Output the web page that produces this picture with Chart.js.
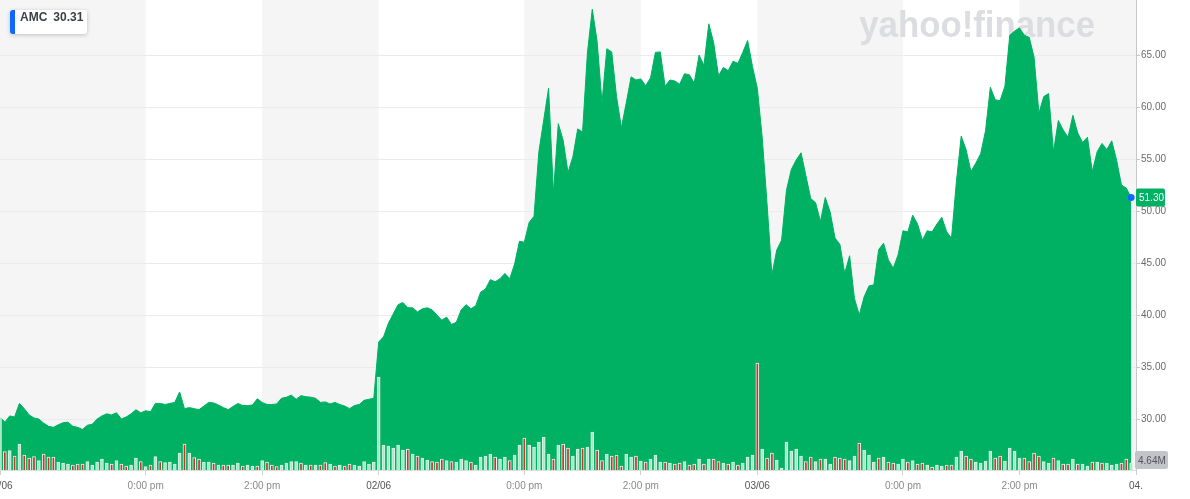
<!DOCTYPE html>
<html>
<head>
<meta charset="utf-8">
<title>AMC</title>
<script src="https://cdn.jsdelivr.net/npm/chart.js@4.4.1/dist/chart.umd.min.js"></script>
<style>
  body { margin: 0; background: #fff; }
  #wrap { position: relative; width: 1190px; height: 499px; }
  #legend {
    position: absolute; left: 10px; top: 10px; height: 24px; line-height: 24px;
    background: #fff; border-left: 5px solid #0f69ff; border-radius: 3px;
    box-shadow: 0 1px 4px rgba(0, 0, 0, 0.22); padding: 0 4px 0 5px;
    font: bold 12px "Liberation Sans", Arial, sans-serif; color: #3c4046;
  }
  #legend .val { margin-left: 6px; }
</style>
</head>
<body>
<div id="wrap">
  <canvas id="priceChart"></canvas>
  <div id="legend"><span>AMC</span><span class="val">30.31</span></div>
</div>
<script>
// 5 minute bars, 78 per trading day
const priceDay1 = [
  30.2, 29.7, 30.3, 30.2, 31.5, 31.0, 30.4, 30.1, 30.0, 29.6,
  29.3, 29.2, 29.45, 29.65, 29.7, 29.3, 29.2, 29.0, 29.4, 29.5,
  30.0, 30.3, 30.5, 30.4, 30.6, 30.0, 30.2, 30.5, 30.9, 30.6,
  30.8, 30.7, 31.5, 31.5, 31.4, 31.5, 31.6, 32.6, 31.0, 31.1,
  31.0, 30.9, 31.25, 31.6, 31.55, 31.35, 31.1, 30.9, 31.2, 31.5,
  31.3, 31.3, 31.35, 31.95, 31.6, 31.4, 31.4, 31.45, 32.0, 32.1,
  32.3, 31.9, 32.25, 32.15, 32.1, 32.0, 31.6, 31.65, 31.45, 31.6,
  31.4, 31.25, 31.0, 31.3, 31.4, 31.8, 31.9, 32.0
];
const priceDay2 = [
  37.4, 37.9, 39.2, 40.1, 41.0, 41.2, 40.7, 40.7, 40.3, 40.6,
  40.7, 40.5, 40.0, 39.5, 39.8, 39.1, 39.3, 40.5, 41.0, 40.6,
  40.9, 42.2, 42.5, 43.4, 43.2, 43.5, 44.0, 43.5, 44.9, 47.1,
  47.0, 48.9, 49.5, 55.7, 58.75, 61.8, 51.7, 58.4, 56.8, 53.7,
  55.2, 57.9, 57.6, 65.2, 69.4, 66.3, 60.4, 65.6, 65.3, 61.0,
  58.0, 60.4, 62.9, 62.6, 62.7, 62.05, 62.8, 65.25, 65.3, 62.0,
  62.6, 62.5, 62.2, 63.2, 63.1, 62.3, 65.0, 64.0, 68.0, 66.2,
  63.0, 63.8, 63.5, 64.4, 64.2, 65.25, 66.4, 63.9
];
const priceDay3 = [
  61.8, 57.1, 50.7, 43.85, 46.25, 47.2, 52.0, 54.0, 54.9, 55.6,
  53.4, 51.2, 50.8, 49.0, 51.3, 49.9, 47.4, 46.8, 44.0, 45.7,
  41.6, 40.0, 41.75, 42.8, 42.9, 46.3, 46.9, 45.3, 44.5, 45.8,
  48.1, 48.0, 49.6, 48.75, 47.2, 48.1, 48.0, 48.75, 49.4, 48.0,
  47.4, 52.8, 57.2, 55.9, 53.8, 54.6, 55.5, 57.7, 61.9, 60.7,
  60.6, 62.0, 66.9, 67.3, 67.6, 66.9, 66.7, 64.8, 59.4, 61.0,
  61.3, 55.7, 58.7, 57.8, 57.1, 59.2, 57.5, 56.6, 57.1, 53.8,
  55.7, 56.5, 55.9, 56.75, 54.9, 52.5, 52.2, 51.3
];

// volume in millions
const volDay1 = [
  26.5, 9.2, 9.7, 7, 12.9, 7.4, 5.9, 6.7, 4.7, 7.9,
  6.4, 6.4, 3.9, 3.4, 2.9, 2.4, 2.9, 2.9, 4.2, 2.5,
  3.9, 5.4, 3.4, 2.9, 4.7, 2.9, 2, 2.5, 5.9, 4.2,
  1.7, 2.5, 6.7, 4.2, 3.7, 3.9, 2.9, 8.4, 12.9, 8.4,
  6.2, 5.4, 3.9, 3.9, 3.4, 2.4, 2.4, 2.4, 2.4, 3.4,
  2, 2.4, 2, 2, 4.7, 3.9, 2.4, 1.7, 2.4, 3.4,
  4.2, 4.2, 3.4, 2.4, 2.4, 2.4, 2.4, 3.7, 2.9, 2,
  2.4, 2, 2.9, 2.4, 2, 4.2, 2.9, 3.9
];
const volDay2 = [
  46.5, 12.5, 12, 10.9, 12.5, 10, 10.4, 8, 7, 5.9,
  5, 4.2, 3.9, 5.4, 4.7, 4.2, 3.9, 5.4, 4.7, 3.9,
  2.4, 6.4, 7, 8, 6.4, 5.4, 6.4, 4.7, 7.5, 12.5,
  15.9, 12.5, 11.4, 13.9, 16.4, 8, 5.4, 12.5, 12.9, 10.9,
  7, 10.4, 10.9, 11.4, 18.9, 10, 4.7, 8, 7, 7.5,
  2, 8, 6.4, 7, 4.5, 3.9, 5.4, 7.5, 3.9, 3.9,
  3.4, 2.9, 3.4, 4.2, 2.4, 2.9, 5.4, 2.9, 5.4, 5.4,
  4.2, 3.4, 2.9, 3.9, 2.4, 3.4, 6.4, 7.5
];
const volDay3 = [
  53.5, 10.4, 5.9, 8.4, 5, 0.9, 13.9, 9.5, 10.4, 7,
  4.2, 6.4, 4.2, 5.4, 5.4, 2.9, 6.4, 5.9, 5.4, 4.7,
  7, 13.4, 10, 7.5, 3.9, 5.9, 6.4, 3.9, 3.4, 2.9,
  5.4, 3.9, 4.7, 2.9, 3.4, 2.4, 1.5, 2.4, 2, 2.4,
  2.4, 6.4, 9.5, 7, 5.4, 3.9, 3.4, 4.5, 9.5, 5.9,
  7, 4.5, 10.9, 9.5, 5.9, 5.9, 4.2, 8.4, 7, 4.2,
  3.4, 5.9, 4.7, 2.9, 2.9, 5.4, 2.9, 2.9, 2, 3.9,
  3.9, 3.4, 3.4, 2.4, 2.9, 3.4, 5.4, 3.4
];
// u = up bar, d = down bar
const dirDay1 = 'udududddud' + 'dduuuddduu' + 'uuududduud' + 'ududuuuudu' + 'dduududduu' + 'duududdduu' + 'uudududdud' + 'udduuuuu';
const dirDay2 = 'uuuuu' + 'ududuudddu' + 'duuuduuuud' + 'uuduuduuuu' + 'ududduuduu' + 'dduddduudu' + 'duuududdud' + 'dududdudud' + 'uuu';
const dirDay3 = 'dudduuuuu' + 'udduduuddd' + 'uuduuududd' + 'uududduduu' + 'dduudduuuu' + 'dduuuudddd' + 'uududduduu' + 'duduuuddu';

const xTickValues = [0, 30, 54, 78, 108, 132, 156, 186, 210, 234];
const xTickLabels = ['01/06', '0:00 pm', '2:00 pm', '02/06', '0:00 pm', '2:00 pm', '03/06', '0:00 pm', '2:00 pm', '04.'];
const dateTicks = [0, 3, 6, 9];
const priceTicks = [30, 35, 40, 45, 50, 55, 60, 65];
const lastVolumeLabel = '4.64M';

const prices = [...priceDay1, ...priceDay2, ...priceDay3];
const volumes = [...volDay1, ...volDay2, ...volDay3];
const dirs = (dirDay1 + dirDay2 + dirDay3).split('');
const lastIdx = prices.length - 1;

const green = '#00b163';
const fontFamily = '"Liberation Sans", Arial, sans-serif';
Chart.defaults.font.family = fontFamily;

const decorPlugin = {
    id: 'decor',
    beforeDraw(chart) {
        let c = chart.ctx, a = chart.chartArea, x = chart.scales.x;
        c.save();
        c.fillStyle = '#fff';
        c.fillRect(0, 0, chart.width, chart.height);
        c.fillStyle = '#f5f5f5';
        for (let i = 0; i < xTickValues.length - 1; i += 2) {
            let x0 = x.getPixelForValue(xTickValues[i]);
            let x1 = x.getPixelForValue(xTickValues[i + 1]);
            c.fillRect(x0, a.top, x1 - x0, a.bottom - a.top);
        }
        c.restore();
    },
    beforeDatasetsDraw(chart) {
        // watermark, under the price area
        let c = chart.ctx, a = chart.chartArea;
        c.save();
        c.translate(a.right - 41, a.top + 37);
        c.scale(0.94, 1);
        c.font = 'bold 37px ' + fontFamily;
        c.fillStyle = '#dcdde1';
        c.textAlign = 'right';
        c.textBaseline = 'alphabetic';
        c.fillText('yahoo!finance', 0, 0);
        c.restore();
    },
    afterDraw(chart) {
        let c = chart.ctx, a = chart.chartArea;
        let y = chart.scales.y.getPixelForValue(prices[lastIdx]);
        c.save();
        c.font = '10px ' + fontFamily;
        c.textAlign = 'left';
        c.textBaseline = 'middle';
        // last price tag
        c.fillStyle = green;
        c.beginPath();
        c.roundRect(a.right, y - 9, 29, 18, 2);
        c.fill();
        c.fillStyle = '#fff';
        c.fillText(prices[lastIdx].toFixed(2), a.right + 3, y + 1);
        // volume tag
        c.fillStyle = '#c3c4c9';
        c.beginPath();
        c.roundRect(a.right - 1, a.bottom - 19, 33, 18, 2);
        c.fill();
        c.fillStyle = '#52555b';
        c.fillText(lastVolumeLabel, a.right + 2, a.bottom - 9);
        c.restore();
    }
};

let ctx = document.getElementById('priceChart').getContext('2d');

let chart = new Chart(ctx, {
    type: 'line',
    data: {
        datasets: [{
            type: 'bar',
            label: 'Volume',
            yAxisID: 'yVol',
            order: 0,
            data: volumes.map((v, i) => ({ x: i, y: v })),
            barThickness: 3,
            borderWidth: 1,
            borderSkipped: 'start',
            backgroundColor: dirs.map(d => d === 'u' ? '#a8e8c6' : '#c0392b'),
            borderColor: dirs.map(d => d === 'u' ? '#d8f5e6' : '#eef7f1')
        }, {
            type: 'line',
            label: 'AMC',
            yAxisID: 'y',
            order: 1,
            data: prices.map((p, i) => ({ x: i, y: p })),
            fill: 'start',
            backgroundColor: green,
            borderColor: green,
            borderWidth: 1,
            tension: 0,
            pointRadius: c => c.dataIndex === lastIdx ? 3.5 : 0,
            pointBackgroundColor: '#0f69ff',
            pointBorderWidth: 0
        }]
    },
    options: {
        responsive: true,
        maintainAspectRatio: false,
        animation: false,
        layout: { padding: 0, autoPadding: false },
        plugins: {
            legend: { display: false },
            tooltip: { enabled: false }
        },
        scales: {
            x: {
                type: 'linear',
                min: 0,
                max: 234,
                offset: false,
                grid: { drawOnChartArea: false, offset: false, tickLength: 5, tickColor: '#cfcfcf' },
                border: { color: '#dedede' },
                ticks: {
                    autoSkip: false,
                    maxRotation: 0,
                    padding: 5,
                    font: { size: 10 },
                    color: c => dateTicks.includes(c.index) ? '#555' : '#8a8a8a',
                    callback: (v, i) => xTickLabels[i]
                },
                afterBuildTicks: s => { s.ticks = xTickValues.map(v => ({ value: v })); },
                afterFit: s => {
                    s.height = 29;
                    s.paddingLeft = 0;
                    s.paddingRight = 0;
                }
            },
            y: {
                position: 'right',
                min: 25.1,
                max: 70.29,
                grid: { color: '#ebebeb', tickLength: 4, tickColor: '#c8c8c8' },
                border: { color: '#c8c8c8' },
                ticks: {
                    padding: 1,
                    font: { size: 10 },
                    color: '#6b6b6b',
                    callback: v => v.toFixed(2)
                },
                afterBuildTicks: s => { s.ticks = priceTicks.map(v => ({ value: v })); },
                afterFit: s => {
                    s.width = 54;
                    s.paddingTop = 0;
                    s.paddingBottom = 0;
                }
            },
            yVol: {
                display: false,
                min: 0,
                max: 235
            }
        }
    },
    plugins: [decorPlugin]
});
</script>
</body>
</html>
